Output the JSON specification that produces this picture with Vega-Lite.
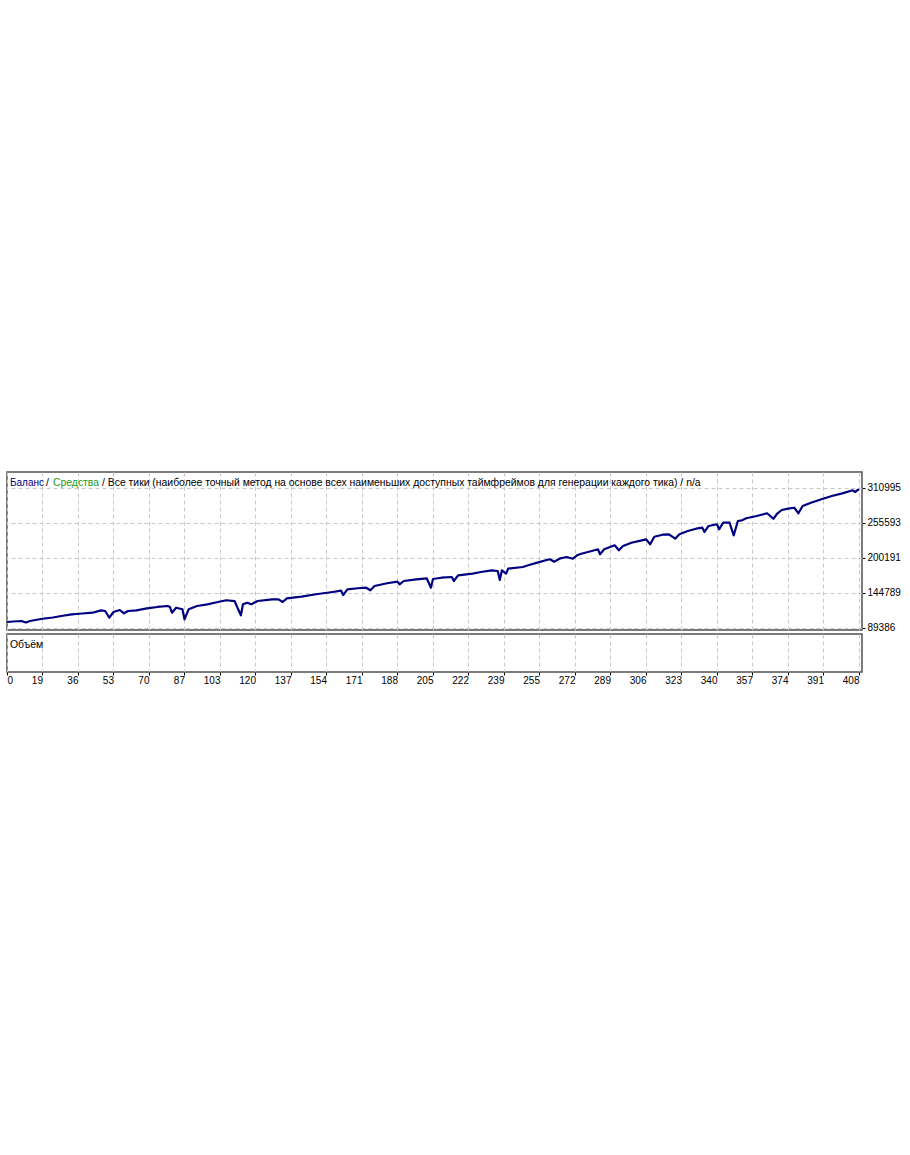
{
  "$schema": "https://vega.github.io/schema/vega-lite/v6.json",
  "padding": {"left": 5, "top": 471, "right": 0, "bottom": 0},
  "background": "white",
  "spacing": -4,
  "config": {
    "view": {"stroke": "#505050", "strokeWidth": 1.5},
    "axis": {"gridColor": "#c8c8c8", "gridDash": [4, 3], "gridWidth": 1, "labelFont": "Liberation Sans", "labelFontSize": 10, "labelColor": "#000000", "tickColor": "#000000", "domain": false, "title": null, "labelOverlap": false, "tickCount": 40},
    "text": {"font": "Liberation Sans", "fontSize": 10.4}
  },
  "datasets": {
    "balance": [
      {"n": 0, "v": 98400}, {"n": 3, "v": 99200}, {"n": 7, "v": 100000}, {"n": 9, "v": 97600}, {"n": 11, "v": 100000},
      {"n": 17, "v": 103600}, {"n": 22, "v": 105500}, {"n": 26, "v": 107900}, {"n": 31, "v": 110600}, {"n": 36, "v": 111900},
      {"n": 41, "v": 113100}, {"n": 45, "v": 116900}, {"n": 47, "v": 115800}, {"n": 49, "v": 105200}, {"n": 51, "v": 114200},
      {"n": 54, "v": 117400}, {"n": 56, "v": 112200}, {"n": 58, "v": 115800}, {"n": 62, "v": 116900}, {"n": 67, "v": 120100},
      {"n": 72, "v": 122200}, {"n": 77, "v": 123700}, {"n": 78, "v": 122200}, {"n": 79, "v": 113100}, {"n": 81, "v": 121000},
      {"n": 84, "v": 118500}, {"n": 85, "v": 102700}, {"n": 87, "v": 118500}, {"n": 91, "v": 123700}, {"n": 96, "v": 126400},
      {"n": 101, "v": 130100}, {"n": 105, "v": 132800}, {"n": 109, "v": 131600}, {"n": 110, "v": 123700}, {"n": 112, "v": 109000},
      {"n": 113, "v": 126400}, {"n": 115, "v": 129000}, {"n": 117, "v": 126400}, {"n": 120, "v": 131600}, {"n": 127, "v": 134300},
      {"n": 130, "v": 134300}, {"n": 132, "v": 130100}, {"n": 134, "v": 135900}, {"n": 141, "v": 138500}, {"n": 148, "v": 142300},
      {"n": 156, "v": 145900}, {"n": 160, "v": 148000}, {"n": 161, "v": 141100}, {"n": 163, "v": 150200}, {"n": 168, "v": 151800},
      {"n": 172, "v": 152700}, {"n": 174, "v": 148600}, {"n": 176, "v": 155400}, {"n": 182, "v": 159700}, {"n": 187, "v": 162200},
      {"n": 188, "v": 158100}, {"n": 190, "v": 163300}, {"n": 196, "v": 166000}, {"n": 201, "v": 167600}, {"n": 203, "v": 152700},
      {"n": 204, "v": 166500}, {"n": 208, "v": 168500}, {"n": 213, "v": 169600}, {"n": 214, "v": 163300}, {"n": 216, "v": 172300},
      {"n": 223, "v": 174900}, {"n": 227, "v": 177600}, {"n": 232, "v": 180200}, {"n": 235, "v": 179100}, {"n": 236, "v": 164900},
      {"n": 237, "v": 180200}, {"n": 239, "v": 174900}, {"n": 240, "v": 182800}, {"n": 247, "v": 185500}, {"n": 250, "v": 188600},
      {"n": 254, "v": 192300}, {"n": 258, "v": 196100}, {"n": 260, "v": 197700}, {"n": 262, "v": 193900}, {"n": 265, "v": 199200},
      {"n": 268, "v": 201300}, {"n": 271, "v": 198600}, {"n": 273, "v": 204000}, {"n": 275, "v": 206500}, {"n": 280, "v": 210800},
      {"n": 283, "v": 213500}, {"n": 284, "v": 205600}, {"n": 286, "v": 213500}, {"n": 290, "v": 218700}, {"n": 291, "v": 219800},
      {"n": 293, "v": 211900}, {"n": 295, "v": 218700}, {"n": 299, "v": 223900}, {"n": 304, "v": 227700}, {"n": 306, "v": 229300},
      {"n": 308, "v": 221400}, {"n": 310, "v": 233400}, {"n": 314, "v": 236600}, {"n": 317, "v": 237200}, {"n": 320, "v": 230300},
      {"n": 322, "v": 237200}, {"n": 326, "v": 242500}, {"n": 330, "v": 246100}, {"n": 333, "v": 247700}, {"n": 334, "v": 240900},
      {"n": 336, "v": 250400}, {"n": 340, "v": 253100}, {"n": 341, "v": 245100}, {"n": 343, "v": 255600}, {"n": 346, "v": 255600},
      {"n": 348, "v": 235600}, {"n": 350, "v": 258300}, {"n": 352, "v": 259400}, {"n": 354, "v": 262600}, {"n": 359, "v": 266200},
      {"n": 364, "v": 270500}, {"n": 367, "v": 261900}, {"n": 369, "v": 270500}, {"n": 371, "v": 275700}, {"n": 374, "v": 277800},
      {"n": 377, "v": 279300}, {"n": 379, "v": 270500}, {"n": 381, "v": 282000}, {"n": 385, "v": 287200}, {"n": 390, "v": 292600},
      {"n": 395, "v": 297900}, {"n": 400, "v": 302100}, {"n": 405, "v": 306900}, {"n": 406, "v": 304200}, {"n": 408, "v": 308500}
    ]
  },
  "vconcat": [
    {
      "width": 855,
      "height": 158,
      "layer": [
        {
          "data": {"name": "balance"},
          "mark": {"type": "line", "color": "#000080", "strokeWidth": 2.2, "strokeJoin": "round"},
          "encoding": {
            "x": {"field": "n", "type": "quantitative", "scale": {"domain": [0, 409.44], "nice": false, "zero": false},
                  "axis": {"values": [0,17,34,51,68,85,102,119,136,153,170,187,204,221,238,255,272,289,306,323,340,357,374,391,408], "labels": false, "ticks": false, "grid": true, "minExtent": 0, "maxExtent": 0, "labelPadding": 0}},
            "y": {"field": "v", "type": "quantitative", "scale": {"domain": [85745, 335846], "nice": false, "zero": false},
                  "axis": {"orient": "right", "values": [89386, 144789, 200191, 255593, 310995], "grid": true, "tickSize": 3, "labelPadding": 2, "format": "d"}}
          }
        },
        {
          "data": {"values": [{"t": "Баланс"}]},
          "mark": {"type": "text", "color": "#000080", "align": "left", "baseline": "middle", "dx": 3, "dy": 11, "fontSize": 10},
          "encoding": {"x": {"datum": 0, "type": "quantitative"}, "y": {"datum": 335846, "type": "quantitative"}, "text": {"field": "t"}}
        },
        {
          "data": {"values": [{"t": "/"}]},
          "mark": {"type": "text", "color": "#000000", "align": "left", "baseline": "middle", "dx": 39, "dy": 11},
          "encoding": {"x": {"datum": 0, "type": "quantitative"}, "y": {"datum": 335846, "type": "quantitative"}, "text": {"field": "t"}}
        },
        {
          "data": {"values": [{"t": "Средства"}]},
          "mark": {"type": "text", "color": "#1a9c1a", "align": "left", "baseline": "middle", "dx": 46, "dy": 11},
          "encoding": {"x": {"datum": 0, "type": "quantitative"}, "y": {"datum": 335846, "type": "quantitative"}, "text": {"field": "t"}}
        },
        {
          "data": {"values": [{"t": "/ Все тики (наиболее точный метод на основе всех наименьших доступных таймфреймов для генерации каждого тика) / n/a"}]},
          "mark": {"type": "text", "color": "#000000", "align": "left", "baseline": "middle", "dx": 95, "dy": 11},
          "encoding": {"x": {"datum": 0, "type": "quantitative"}, "y": {"datum": 335846, "type": "quantitative"}, "text": {"field": "t"}}
        }
      ]
    },
    {
      "width": 855,
      "height": 38,
      "data": {"values": [{"n": 0, "label": "Объём"}]},
      "mark": {"type": "text", "color": "#000000", "align": "left", "baseline": "middle", "dx": 3, "dy": 11},
      "encoding": {
        "x": {"field": "n", "type": "quantitative", "scale": {"domain": [0, 409.44], "nice": false, "zero": false},
              "axis": {"orient": "bottom", "values": [0,17,34,51,68,85,102,119,136,153,170,187,204,221,238,255,272,289,306,323,340,357,374,391,408],
                       "labelExpr": "['0','19','36','53','70','87','103','120','137','154','171','188','205','222','239','255','272','289','306','323','340','357','374','391','408'][round(datum.value/17)]",
                       "grid": true, "tickSize": 3, "labelAlign": {"condition": {"test": "datum.value == 0", "value": "left"}, "value": "right"}, "labelPadding": 0}},
        "y": {"datum": 1, "type": "quantitative", "scale": {"domain": [0, 1]}, "axis": null},
        "text": {"field": "label"}
      }
    }
  ]
}
